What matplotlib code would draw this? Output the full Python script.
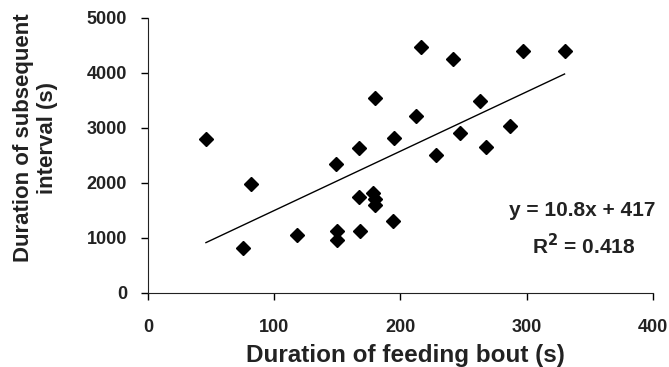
import numpy as np
from matplotlib import pyplot as plt

plt.rcParams['font.family'] = ['Liberation Sans', 'DejaVu Sans']

# feeding bout duration (s) and subsequent interval (s)
bout = [46, 82, 75, 118, 149, 150, 150, 167, 167, 168, 180, 178, 180, 180,
        194, 195, 216, 242, 297, 330, 263, 212, 247, 228, 268, 287]
interval = [2790, 1980, 820, 1050, 2340, 1120, 960, 2640, 1750, 1120, 3540,
            1810, 1700, 1600, 1300, 2820, 4470, 4250, 4400, 4400, 3490, 3210,
            2910, 2500, 2650, 3030]
slope = 10.8
intercept = 417
r2 = 0.418

fig = plt.figure(figsize=(6.69, 3.67), dpi=100)
ax = fig.add_axes([0.221, 0.202, 0.755, 0.749])

ax.plot(bout, interval, 'D', color='black', ms=7, mec='black')
xl = np.array([min(bout), max(bout)])
ax.plot(xl, slope * xl + intercept, color='black', lw=1)

ax.set_xlim(0, 400)
ax.set_ylim(0, 5000)
ax.set_xticks([0, 100, 200, 300, 400])
ax.set_yticks([0, 1000, 2000, 3000, 4000, 5000])
for s in ['top', 'right']:
    ax.spines[s].set_visible(False)
ax.spines['left'].set_color('#222222')
ax.spines['bottom'].set_color('#222222')
ax.tick_params(direction='out', length=5, width=1, labelsize=13)
ax.tick_params(axis='x', pad=14)
ax.tick_params(axis='y', pad=10)
for t in ax.get_xticklabels() + ax.get_yticklabels():
    t.set_fontweight('bold')
    t.set_color('#222222')

ax.set_xlabel('Duration of feeding bout (s)', fontsize=17.5, fontweight='bold',
              color='#222222')
ax.xaxis.set_label_coords(0.509, -0.185)
ax.set_ylabel('Duration of subsequent\ninterval (s)', fontsize=16,
              fontweight='bold', color='#222222', multialignment='center')
ax.yaxis.set_label_coords(-0.178, 0.564)

ax.text(344, 1491, 'y = %.1fx + %d' % (slope, intercept), ha='center',
        va='center', fontsize=15, fontweight='bold', color='#222222')
ax.text(345, 855, 'R$^\\mathbf{2}$ = %.3f' % r2, ha='center', va='center',
        fontsize=15, fontweight='bold', color='#222222')

fig.savefig('out.png')
